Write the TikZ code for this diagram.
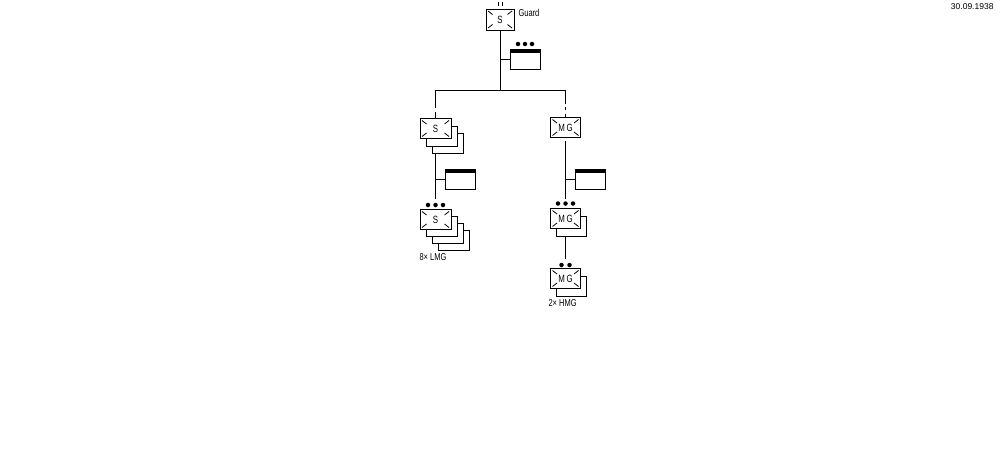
\documentclass[tikz,border=0pt]{standalone}
\usepackage{fontspec}
\setmainfont{Liberation Sans}
\newfontfamily\cond[FakeStretch=0.75]{Liberation Sans}
\begin{document}
\begin{tikzpicture}[x=1pt,y=-1pt,line width=1pt,
  lbl/.style={font=\cond\fontsize{10pt}{12pt}\selectfont, inner sep=0pt},
  back/.style={draw, fill=white, inner sep=0pt},
  unit/.style={draw, fill=white, inner sep=0pt, font=\cond\fontsize{10.5pt}{12pt}\selectfont,
    path picture={
      \draw[line width=0.8pt] ([shift={(2pt,-2pt)}]path picture bounding box.north west) -- ++(4.5pt,-3.5pt);
      \draw[line width=0.8pt] ([shift={(-2pt,-2pt)}]path picture bounding box.north east) -- ++(-4.5pt,-3.5pt);
      \draw[line width=0.8pt] ([shift={(2pt,2pt)}]path picture bounding box.south west) -- ++(4.5pt,3.5pt);
      \draw[line width=0.8pt] ([shift={(-2pt,2pt)}]path picture bounding box.south east) -- ++(-4.5pt,3.5pt);
    }},
  sbox/.style={minimum width=31pt, minimum height=20pt},
  mbox/.style={minimum width=30pt, minimum height=20pt},
  hq/.style={draw, fill=white, inner sep=0pt, minimum width=30pt, minimum height=20pt,
    path picture={\fill[black] ([yshift=0.5pt]path picture bounding box.north west) rectangle ([yshift=-3.5pt]path picture bounding box.north east);}},
  dot/.style={circle, fill=black, inner sep=0pt, minimum size=4.5pt}
]
\fill[white] (0,0) rectangle (1000,450);
\useasboundingbox (0,0) rectangle (1000,450);

% date
\node[font=\fontsize{8.5pt}{10pt}\selectfont, inner sep=0pt, anchor=east] (date) at (994,7) {30.09.1938};

% top unit
\node[unit, minimum width=28pt, minimum height=21pt] (top) at (500,19.5) {S};
\node[lbl, anchor=west] (guard) at (518,12.5) {Guard};
\draw ([shift={(-2pt,3pt)}]top.north) -- ++(0pt,4pt);
\draw ([shift={(2pt,3pt)}]top.north) -- ++(0pt,4pt);
\coordinate (jT) at (500,90);
\draw (top.south) -- (jT);
\node[hq] (hq1) at (525,59) {};
\draw (hq1.west) -- (hq1.west -| top.south);
\node[dot] (d1a) at (518,44) {};
\node[dot] (d1b) at (525,44) {};
\node[dot] (d1c) at (532,44) {};

\coordinate (jL) at (435.5,90);
\coordinate (jR) at (565.5,90);
\draw (jL) -- (jR);

% left column
\node[back, sbox] (s1c) at (448.1,143.5) {};
\node[back, sbox] (s1b) at (441.8,136) {};
\node[unit, sbox] (s1a) at (435.5,128.5) {S};
\coordinate (gL) at (435.5,108);
\draw (jL) -- (gL);
\draw ([yshift=6pt]s1a.north) -- (s1a.north);
\coordinate (eL) at (435.5,198.5);
\draw (s1a.center |- s1c.south) -- (eL);
\node[hq] (hq2) at (460.75,179) {};
\draw (hq2.west) -- (hq2.west -| s1a.center);
\node[dot] (d2a) at (428,205) {};
\node[dot] (d2b) at (435.5,205) {};
\node[dot] (d2c) at (443,205) {};
\node[back, sbox] (s2d) at (453.5,240.5) {};
\node[back, sbox] (s2c) at (447.5,233.5) {};
\node[back, sbox] (s2b) at (441.5,226.5) {};
\node[unit, sbox] (s2a) at (435.5,219.5) {S};
\node[lbl, anchor=west] (lmg) at (419,257) {8\texttimes{} LMG};

% right column
\coordinate (gR) at (565.5,104);
\draw (jR) -- (gR);
\node[unit, mbox] (m1a) at (565.5,127.5) {M\,G};
\draw ([yshift=10.5pt]m1a.north) -- ([yshift=7pt]m1a.north);
\draw ([yshift=3.5pt]m1a.north) -- (m1a.north);
\coordinate (eR) at (565.5,198.5);
\draw ([yshift=-3pt]m1a.south) -- (eR);
\node[hq] (hq3) at (590.75,179.5) {};
\draw (hq3.west) -- (hq3.west -| m1a.center);
\node[dot] (d3a) at (558,203.5) {};
\node[dot] (d3b) at (565.5,203.5) {};
\node[dot] (d3c) at (573,203.5) {};
\node[back, mbox] (m2b) at (571.8,226.5) {};
\node[unit, mbox] (m2a) at (565.5,218.5) {M\,G};
\coordinate (fR) at (565.5,258.5);
\draw (m2a.center |- m2b.south) -- (fR);
\node[dot] (d4a) at (561.5,265) {};
\node[dot] (d4b) at (569.5,265) {};
\node[back, mbox] (m3b) at (571.8,286.5) {};
\node[unit, mbox] (m3a) at (565.5,278.5) {M\,G};
\node[lbl, anchor=west] (hmg) at (548,303) {2\texttimes{} HMG};
\end{tikzpicture}
\end{document}
